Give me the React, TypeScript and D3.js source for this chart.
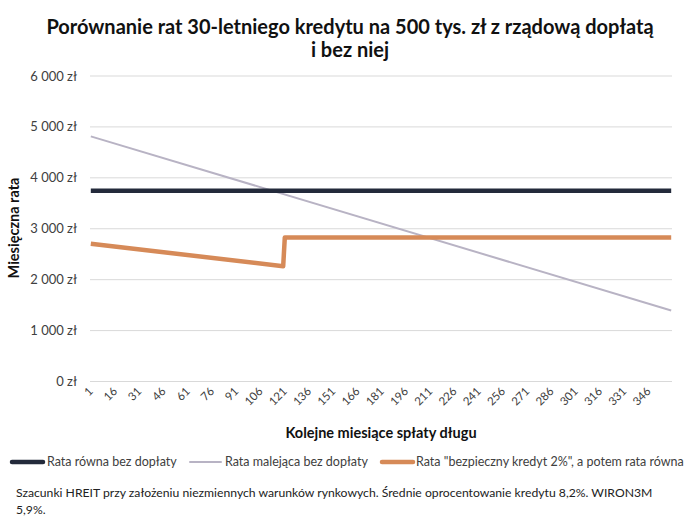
import * as d3 from 'd3'

const months = d3.range(1, 361)
const tickMonths = d3.range(1, 361, 15)
const yTicks = [0, 1000, 2000, 3000, 4000, 5000, 6000]

// points: [month, rate]
const equalRate: [number, number][] = [
  [1, 3745],
  [360, 3745],
]
const decreasingRate: [number, number][] = [
  [1, 4815],
  [360, 1395],
]
const subsidyRate: [number, number][] = [
  [1, 2705],
  [120, 2265],
  [121, 2830],
  [360, 2830],
]

const seriesNames = [
  'Rata równa bez dopłaty',
  'Rata malejąca bez dopłaty',
  'Rata "bezpieczny kredyt 2%", a potem rata równa',
]
const colors = ['#232a3b', '#b8b3c4', '#d68a58']
const widths = [4.5, 2, 4.5]

const W = 700
const H = 528
const font = 'Lato, "Open Sans", sans-serif'

export default function App() {
  const x = d3.scaleLinear().domain([0.5, months.length + 0.5]).range([90, 672])
  const y = d3.scaleLinear().domain([0, 6000]).range([381.5, 76])
  const fmt = (v: number) => d3.format(',')(v).replace(/,/g, ' ') + ' zł'

  const line = d3
    .line<[number, number]>()
    .x((d) => x(d[0]))
    .y((d) => y(d[1]))

  const data = [equalRate, decreasingRate, subsidyRate]
  const drawOrder = [1, 0, 2]

  const legend = [
    { sx: 10, tx: 47 },
    { sx: 188, tx: 225 },
    { sx: 380, tx: 416 },
  ]

  return (
    <svg
      width={W}
      height={H}
      style={{ position: 'absolute', left: 0, top: 0, background: '#fff' }}
      fontFamily={font}
    >
      <rect width={W} height={H} fill="#fff" />
      <text x={350} y={34} textAnchor="middle" fontSize={20} fontWeight={700} fill="#111">
        Porównanie rat 30-letniego kredytu na 500 tys. zł z rządową dopłatą
      </text>
      <text x={350} y={57} textAnchor="middle" fontSize={20} fontWeight={700} fill="#111">
        i bez niej
      </text>

      {yTicks.map((t) => (
        <g key={t}>
          <line x1={90} x2={672} y1={y(t)} y2={y(t)} stroke="#d9d9d9" strokeWidth={1} />
          <text x={77} y={y(t)} dy="0.35em" textAnchor="end" fontSize={13} fill="#404040">
            {fmt(t)}
          </text>
        </g>
      ))}

      {tickMonths.map((m) => (
        <text
          key={m}
          transform={`translate(${x(m) + 3},${392}) rotate(-45)`}
          textAnchor="end"
          fontSize={11.5}
          fill="#404040"
        >
          {m}
        </text>
      ))}

      {drawOrder.map((i) => (
        <path
          key={i}
          d={line(data[i]) ?? ''}
          fill="none"
          stroke={colors[i]}
          strokeWidth={widths[i]}
          strokeLinejoin="round"
        />
      ))}

      <text
        transform={`translate(19,228) rotate(-90)`}
        textAnchor="middle"
        fontSize={14.5}
        fontWeight={700}
        fill="#111"
      >
        Miesięczna rata
      </text>
      <text x={381} y={438} textAnchor="middle" fontSize={14.5} fontWeight={700} fill="#111">
        Kolejne miesiące spłaty długu
      </text>

      {seriesNames.map((name, i) => (
        <g key={name}>
          <line
            x1={legend[i].sx + 2}
            x2={legend[i].sx + 33}
            y1={462}
            y2={462}
            stroke={colors[i]}
            strokeWidth={widths[i]}
            strokeLinecap="round"
          />
          <text x={legend[i].tx} y={462} dy="0.35em" fontSize={12.5} fill="#404040">
            {name}
          </text>
        </g>
      ))}

      <text x={16} y={497} fontSize={12.2} fill="#222">
        Szacunki HREIT przy założeniu niezmiennych warunków rynkowych. Średnie oprocentowanie kredytu 8,2%. WIRON3M
      </text>
      <text x={16} y={514} fontSize={12.2} fill="#222">
        5,9%.
      </text>
    </svg>
  )
}
